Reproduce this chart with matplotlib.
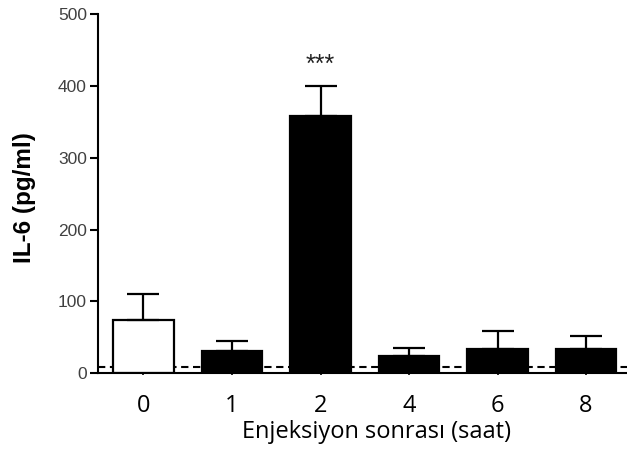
import matplotlib
matplotlib.use("Agg")
import matplotlib.pyplot as plt
import numpy as np

# IL-6 levels after injection (mean with upper error bar)
hours = ["0", "1", "2", "4", "6", "8"]
il6_mean = [74, 30, 359, 24, 33, 33]
il6_err = [36, 14, 41, 11, 26, 18]
bar_colors = ["white", "black", "black", "black", "black", "black"]
detection_limit = 8
y_ticks = [0, 100, 200, 300, 400, 500]
significance = {2: "***"}

fig = plt.figure(figsize=(6.27, 4.58), dpi=100)
ax = fig.add_axes([98 / 627, 1 - 373 / 458, 1 - 98 / 627, 358.5 / 458])

x = np.arange(len(hours))
ax.axhline(detection_limit, color="black", lw=1.5, ls=(0, (3.5, 2.2)), zorder=1)
ax.bar(x, il6_mean, width=0.68, color=bar_colors, edgecolor="black",
       linewidth=1.6, zorder=2)
ax.errorbar(x, il6_mean, yerr=[np.zeros(len(x)), il6_err], fmt="none",
            ecolor="black", elinewidth=1.6, capsize=11.5, capthick=1.6, zorder=3)

for i, txt in significance.items():
    ax.text(x[i], il6_mean[i] + il6_err[i] + 30, txt, ha="center", va="center",
            fontsize=18, family="Liberation Sans", color="#222222")

ax.set_xlim(-0.514, 5.463)
ax.set_ylim(0, 500)
ax.set_yticks(y_ticks)
ax.set_yticklabels([str(v) for v in y_ticks], family="Liberation Sans",
                   fontsize=12.5, color="#404040")
ax.set_xticks(x)
ax.set_xticklabels(hours, family="Open Sans", fontsize=17)

for side in ("top", "right"):
    ax.spines[side].set_visible(False)
for side in ("left", "bottom"):
    ax.spines[side].set_linewidth(1.5)
ax.tick_params(axis="y", length=6, width=1.5, pad=2)
ax.tick_params(axis="x", length=1.5, width=1.2, pad=13.5)

ax.set_xlabel("Enjeksiyon sonrası (saat)", family="Open Sans", fontsize=17)
ax.xaxis.set_label_coords(0.527, -0.13)
ax.set_ylabel("IL-6 (pg/ml)", family="Liberation Sans", fontweight="bold", fontsize=17.5)
ax.yaxis.set_label_coords(-0.118, 0.488)

fig.savefig("out.png", dpi=100)
